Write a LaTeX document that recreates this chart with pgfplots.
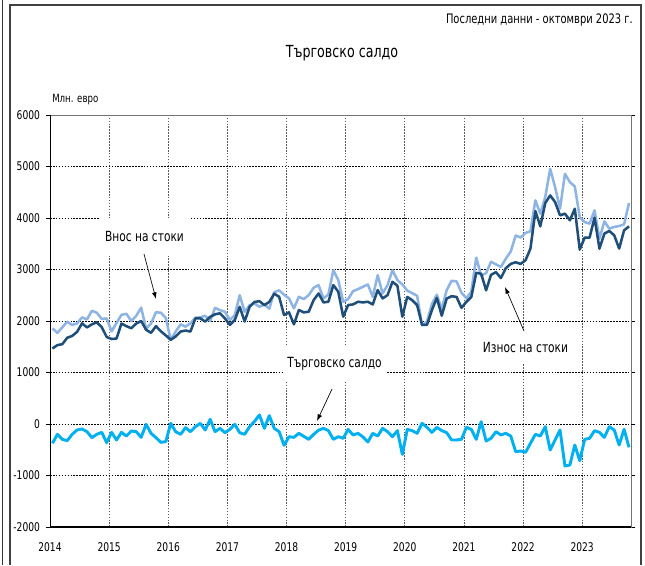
\documentclass[border=0pt]{standalone}
\usepackage{fontspec}
\setmainfont{DejaVu Sans}[FakeStretch=0.76]
\usepackage{pgfplots}
\usepackage{pgfplotstable}
\pgfplotsset{compat=1.18}
\usetikzlibrary{arrows.meta}

\definecolor{expc}{RGB}{31,78,121}
\definecolor{impc}{RGB}{141,180,226}
\definecolor{balc}{RGB}{0,176,240}

\newcommand{\px}[2]{({(#1)*0.75pt},{(565-(#2))*0.75pt})}

\pgfplotstableread{
i E I B
0 1467 1857 -375
1 1532 1770 -200
2 1550 1877 -298
3 1675 1987 -323
4 1710 1922 -200
5 1790 1955 -116
6 1955 2070 -97
7 1875 2030 -149
8 1935 2200 -265
9 1975 2160 -200
10 1880 2040 -162
11 1690 2050 -362
12 1650 1800 -162
13 1660 1960 -310
14 1950 2120 -162
15 1900 2140 -233
16 1860 2000 -136
17 1950 2100 -149
18 2000 2260 -259
19 1830 1850 -6
20 1770 1950 -181
21 1900 2170 -265
22 1800 2160 -356
23 1720 2060 -343
24 1635 1630 13
25 1700 1795 -149
26 1795 1935 -200
27 1815 1890 -71
28 1795 1955 -149
29 2050 2065 -52
30 2050 2070 13
31 1990 2100 -116
32 2080 2000 91
33 2130 2255 -149
34 2150 2210 -84
35 2050 2180 -168
36 1925 2020 -104
37 2020 2115 -6
38 2275 2500 -170
39 1990 2180 -200
40 2275 2305 -52
41 2370 2340 50
42 2385 2275 175
43 2310 2320 -84
44 2370 2240 162
45 2530 2560 -84
46 2470 2595 -149
47 2115 2510 -414
48 2168 2439 -246
49 1935 2245 -259
50 2213 2470 -181
51 2168 2426 -240
52 2180 2503 -298
53 2406 2645 -200
54 2535 2697 -120
55 2361 2439 -84
56 2374 2516 -129
57 2697 2987 -298
58 2568 2793 -246
59 2084 2374 -278
60 2310 2426 -104
61 2322 2580 -213
62 2374 2619 -181
63 2361 2664 -250
64 2374 2710 -350
65 2322 2470 -181
66 2600 2890 -233
67 2438 2535 -84
68 2503 2697 -149
69 2761 2987 -246
70 2684 2793 -129
71 2084 2710 -590
72 2468 2590 -104
73 2404 2540 -129
74 2308 2490 -181
75 1923 1920 13
76 1923 1990 -65
77 2211 2330 -162
78 2449 2510 -65
79 2103 2230 -129
80 2436 2600 -168
81 2481 2780 -310
82 2468 2770 -310
83 2256 2550 -298
84 2372 2440 -65
85 2468 2570 -104
86 2936 3230 -298
87 2917 2880 45
88 2596 2930 -330
89 2897 3150 -278
90 2949 3100 -149
91 2833 3050 -213
92 3026 3210 -181
93 3109 3350 -233
94 3141 3660 -537
95 3109 3620 -524
96 3180 3710 -550
97 3406 3742 -375
98 4135 4341 -200
99 3838 4084 -233
100 4290 4406 -52
101 4438 4954 -505
102 4309 4600 -310
103 4052 4180 -116
104 4084 4858 -815
105 3955 4696 -796
106 4180 4612 -408
107 3387 4019 -712
108 3619 3922 -298
109 3619 3890 -278
110 4006 4148 -129
111 3406 3600 -162
112 3697 3935 -259
113 3748 3793 -52
114 3664 3826 -116
115 3406 3845 -408
116 3761 3877 -103
117 3838 4290 -453
}\tradedata

\begin{document}
\begin{tikzpicture}
\useasboundingbox (0,0) rectangle (483.75pt,423.75pt);
\begin{axis}[
  at={(37.5pt,28.5pt)}, anchor=south west,
  scale only axis, width=436.1pt, height=309pt,
  xmin=-0.5, xmax=117.5, ymin=-2000, ymax=6000,
  xtick={-0.5,11.5,23.5,35.5,47.5,59.5,71.5,83.5,95.5,107.5},
  xticklabels={2014,2015,2016,2017,2018,2019,2020,2021,2022,2023},
  ytick={-2000,-1000,1000,2000,3000,4000,5000,6000},
  extra y ticks={0},
  extra y tick style={grid=major, major grid style={solid, black, line width=0.8pt}},
  grid=major,
  x grid style={dash pattern=on 1.2pt off 1pt, black!65, line width=0.6pt},
  y grid style={dash pattern=on 1.2pt off 1pt, black, line width=0.6pt},
  axis line style={black!55, line width=0.6pt},
  tick align=outside,
  xtick style={draw=none},
  ytick style={black, line width=0.6pt},
  major tick length=3pt,
  tick label style={font=\fontsize{9}{10}\selectfont},
  /pgf/number format/assume math mode=true,
  /pgf/number format/1000 sep={},
  xticklabel style={yshift=-5pt},
  yticklabel style={xshift=-1pt},
  line join=round,
]
\addplot[impc, line width=1.9pt, no markers] table[x=i, y=I] {\tradedata};
\addplot[expc, line width=1.9pt, no markers] table[x=i, y=E] {\tradedata};
\addplot[balc, line width=2.2pt, no markers] table[x=i, y=B] {\tradedata};
\draw[black, line width=0.8pt] (rel axis cs:0,1) -- (rel axis cs:0,0) -- (rel axis cs:1,0);
\end{axis}

% frame
\draw[black!80, line width=0.6pt] \px{2}{0} -- \px{2}{565};
\draw[black!75, line width=0.8pt] \px{10}{565} -- \px{10}{5} -- \px{641}{5} -- \px{641}{565};

% header texts
\node[anchor=east, inner sep=0pt, font=\fontsize{9.8}{12}\selectfont] at \px{633}{20} {Последни данни - октомври 2023 г.};
\node[inner sep=0pt, font=\fontsize{12.5}{14}\selectfont] at \px{342}{53} {Търговско салдо};
\node[anchor=west, inner sep=0pt, font=\fontsize{8.5}{10}\selectfont] at \px{52}{100} {Млн. евро};

% annotations
\node[fill=white, inner xsep=4pt, minimum height=27pt, font=\fontsize{10.5}{12}\selectfont] at \px{144.5}{236} {Внос на стоки};
\draw[black, line width=0.5pt, -{Latex[length=5pt, width=3.5pt]}] \px{144}{254} -- \px{156}{299};

\node[fill=white, inner xsep=3pt, minimum height=27.5pt, font=\fontsize{10.5}{12}\selectfont] at \px{334.5}{363.5} {Търговско салдо};
\draw[black, line width=0.5pt, -{Latex[length=5pt, width=3.5pt]}] \px{332}{389} -- \px{317}{421};

\node[fill=white, inner xsep=4pt, minimum height=25pt, font=\fontsize{10.5}{12}\selectfont] at \px{525.5}{347} {Износ на стоки};
\draw[black, line width=0.5pt, -{Latex[length=5pt, width=3.5pt]}] \px{524}{331} -- \px{505}{287};
\end{tikzpicture}
\end{document}
